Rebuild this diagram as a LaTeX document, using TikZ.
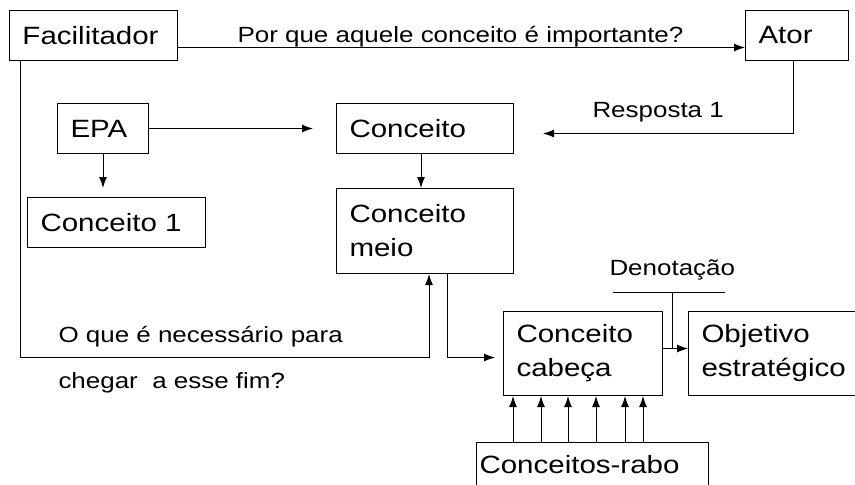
\documentclass[tikz,border=0pt]{standalone}
\usepackage{fontspec}
\setmainfont{Liberation Sans}[FakeStretch=1.18]
\usetikzlibrary{calc,arrows.meta}

\newcommand{\bigtxt}{\fontsize{25pt}{34pt}\selectfont}
\newcommand{\smalltxt}{\fontsize{22pt}{26pt}\selectfont}

\tikzset{
  box/.style={draw, anchor=north west, inner xsep=13pt, inner ysep=0pt,
    align=left, font=\bigtxt},
  lbl/.style={anchor=base west, inner sep=0pt, font=\smalltxt},
  arr/.style={-{Latex[length=11pt,width=8pt]}}
}

\begin{document}
\begin{tikzpicture}[x=1pt, y=-1pt, line width=1pt]
    \useasboundingbox (0,0) rectangle (855,485);
    \clip (0,0) rectangle (855,485);

    % boxes
    \node[box, minimum height=50pt, text width=142pt] (fac) at (9,10) {Facilitador};
    \node[box, minimum height=50pt, text width=77pt] (ator) at (745,10) {Ator};
    \node[box, minimum height=50pt, text width=65pt] (epa) at (57,103) {EPA};
    \node[box, minimum height=50pt, text width=151pt] (conc) at (336,103) {Conceito};
    \node[box, minimum height=50pt, text width=152pt] (conc1) at (27,197) {Conceito 1};
    \node[box, minimum height=85pt, text width=151pt] (meio) at (336,188) {Conceito\\meio};
    \node[box, minimum height=84pt, text width=133pt] (cab) at (503,311) {Conceito\\cabe\c{c}a};
    \node[box, minimum height=84pt, text width=146pt] (obj) at (688,311) {Objetivo\\estrat\'egico};
    \node[box, minimum height=45pt, inner xsep=3pt, text width=226pt] (rabo) at (476,442) {Conceitos-rabo};

    % labels
    \node[lbl] (perg1) at (237,42) {Por que aquele conceito \'e importante?};
    \node[lbl] (resp) at (592,117) {Resposta 1};
    \node[lbl] (den) at (609,275) {Denota\c{c}\~ao};
    \node[lbl] (perg2a) at (58,342) {O que \'e necess\'ario para};
    \node[lbl] (perg2b) at (58,388) {chegar~ a esse fim?};

    \coordinate (q1) at (20,357);
    \coordinate (d1) at (613,292);
    \coordinate (d2) at (725,292);
    \coordinate (d3) at (672,292);
    \coordinate (c1) at ([yshift=5pt]cab.east);

    % connectors
    \draw[arr] ([yshift=-12pt]fac.east) -- ([yshift=-12pt]ator.west);
    \draw[arr] ([xshift=11pt]fac.south west) -- (q1) -| ([xshift=-85pt]meio.south east);
    \draw[arr, shorten >=23pt] (epa.east) -- (conc.west);
    \draw[arr, shorten >=9pt] (epa.south) -- (epa.south |- conc1.north);
    \draw[arr] ([xshift=-4pt]conc.south) -- ([xshift=-4pt]meio.north);
    \draw[arr] ([xshift=-3.5pt]ator.south) |- ([xshift=29pt,yshift=-5pt]conc.east);
    \draw[arr] ([xshift=22.5pt]meio.south) |- ([xshift=-8pt,yshift=-4pt]cab.west);
    \draw[arr] (c1) -- (c1 -| obj.west);
    \draw (d1) -- (d2);
    \draw (d3) -- (d3 |- c1);
    \foreach \x in {513,541,568,596,625,643}
      \draw[arr] (\x,0 |- rabo.north) -- (\x,0 |- cab.south);
\end{tikzpicture}
\end{document}
